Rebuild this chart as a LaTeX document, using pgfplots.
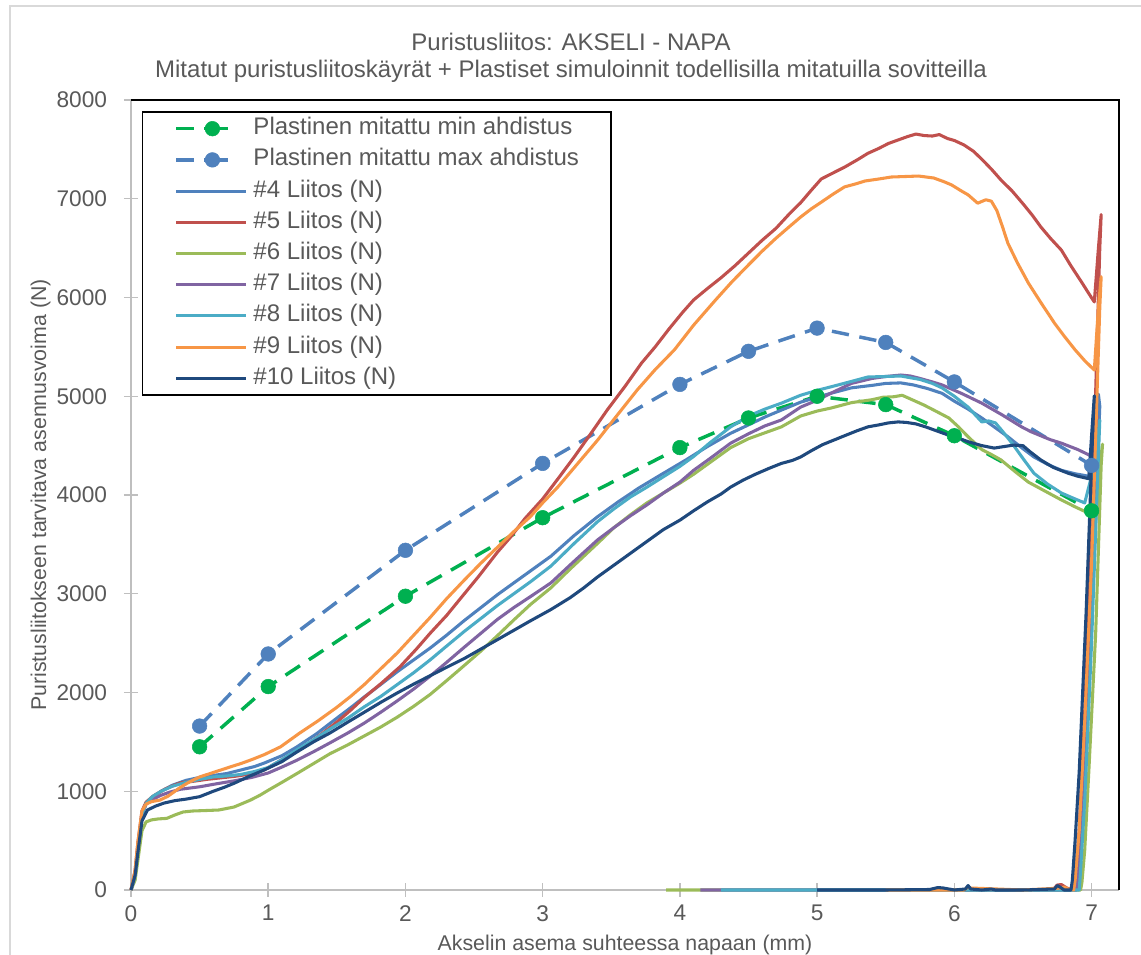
\documentclass[border=0pt]{standalone}
\usepackage{fontspec}
\setmainfont{Liberation Sans}
\usepackage{pgfplots}
\pgfplotsset{compat=1.18}

\definecolor{txt}{HTML}{595959}
\definecolor{axgrey}{HTML}{BFBFBF}
\definecolor{chartframe}{HTML}{D9D9D9}
\definecolor{cMin}{HTML}{00B050}
\definecolor{cMax}{HTML}{4F81BD}
\definecolor{cFour}{HTML}{4F81BD}
\definecolor{cFive}{HTML}{C0504D}
\definecolor{cSix}{HTML}{9BBB59}
\definecolor{cSeven}{HTML}{8064A2}
\definecolor{cEight}{HTML}{4BACC6}
\definecolor{cNine}{HTML}{F79646}
\definecolor{cTen}{HTML}{1F497D}

\pgfplotsset{
  simline/.style={line width=2.6pt, dash pattern=on 13pt off 8pt, mark=*, mark size=5.5pt,
    mark options={solid, line width=0.4pt},
    legend image code/.code={
      \draw[mark repeat=2, mark phase=2, ##1, dash pattern=on 13.5pt off 7.5pt on 18pt off 10pt]
        plot coordinates {(0pt,0pt) (27pt,0pt) (39pt,0pt)};
      \path (52.5pt,0pt);}},
  meas/.style={line width=2.3pt, line join=round},
}

\begin{document}
\begin{tikzpicture}
\useasboundingbox (0pt,0pt) rectangle (855.75pt,716.25pt);
% chart area border
\draw[chartframe, line width=1.5pt] (7.5pt,0pt) -- (7.5pt,711.75pt) -- (855.75pt,711.75pt);
% titles
\node[text=txt, font=\fontsize{18pt}{21pt}\selectfont, anchor=base, inner sep=0pt] at (428.25pt,678pt) {Puristusliitos: AKSELI - NAPA};
\node[text=txt, font=\fontsize{18pt}{21pt}\selectfont, anchor=base, inner sep=0pt] at (428.25pt,657.75pt) {Mitatut puristusliitoskäyrät + Plastiset simuloinnit todellisilla mitatuilla sovitteilla};

\begin{axis}[
  at={(98.25pt,48.75pt)}, anchor=south west,
  scale only axis, width=741pt, height=592.5pt,
  xmin=0, xmax=7.2, ymin=0, ymax=8000,
  clip=false,
  axis line style={draw=none},
  xtick={0,1,...,7}, ytick={0,1000,...,8000},
  tick pos=left, tick align=center,
  major tick length=10.5pt,
  major tick style={draw=axgrey, line width=1.1pt},
  scaled ticks=false,
  /pgf/number format/assume math mode=true,
  /pgf/number format/1000 sep={},
  ticklabel style={font=\fontsize{17pt}{20pt}\selectfont, text=txt, inner sep=0pt},
  yticklabel style={anchor=east},
  xticklabel style={anchor=north, yshift=-6pt},
  yticklabel shift=12.5pt,
  xlabel={Akselin asema suhteessa napaan (mm)},
  ylabel={Puristusliitokseen tarvitava asennusvoima (N)},
  xlabel style={at={(axis description cs:0.5,-0.0772)}, anchor=base, inner sep=0pt,
    font=\fontsize{16pt}{19pt}\selectfont, text=txt},
  ylabel style={at={(axis description cs:-0.086,0.5)}, anchor=base, inner sep=0pt,
    font=\fontsize{16pt}{19pt}\selectfont, text=txt},
  legend image code/.code={\draw[#1] (0pt,0pt) -- (52.5pt,0pt);},
  legend cell align=left,
  legend style={at={(0.0111,0.9857)}, anchor=north west, draw=black, line width=1.1pt,
    inner xsep=24pt, inner ysep=4.5pt, row sep=7.4pt, column sep=4pt,
    font=\fontsize{18pt}{21pt}\selectfont, text=txt,
    nodes={inner sep=0pt, text height=12.5pt, text depth=3.5pt}},
]

% axis lines (grey, under the curves)
\draw[axgrey, line width=1.5pt] (rel axis cs:0,1) -- (rel axis cs:0,0) -- (rel axis cs:1,0);

% plastic simulations
\addplot[simline, color=cMin] coordinates {
(0.5,1450) (1,2060) (2,2975) (3,3770) (4,4480) (4.5,4780) (5,5000) (5.5,4915) (6,4600) (7,3840)};
\addlegendentry{Plastinen mitattu min ahdistus}
\addplot[simline, color=cMax] coordinates {
(0.5,1660) (1,2390) (2,3440) (3,4320) (4,5120) (4.5,5455) (5,5690) (5.5,5545) (6,5145) (7,4300)};
\addlegendentry{Plastinen mitattu max ahdistus}

% measured joints
\addplot[meas, color=cFour] coordinates {
(0,0) (0.03,150) (0.05,420) (0.08,760) (0.11,880) (0.16,940) (0.22,1000) (0.3,1060) (0.4,1110)
(0.5,1140) (0.6,1160) (0.7,1180) (0.8,1215) (0.9,1250) (0.97,1285) (1.1,1360) (1.21,1450)
(1.35,1580) (1.5,1740) (1.6,1845) (1.7,1955) (1.8,2060) (1.94,2210) (2.06,2330) (2.18,2450)
(2.3,2580) (2.43,2730) (2.55,2860) (2.67,2990) (2.8,3120) (2.91,3230) (3.06,3380) (3.23,3590)
(3.4,3780) (3.55,3930) (3.7,4070) (3.88,4220) (4.05,4360) (4.2,4490) (4.37,4625) (4.5,4710)
(4.62,4790) (4.74,4860) (4.88,4940) (5.0,4990) (5.1,5030) (5.25,5085) (5.4,5110) (5.5,5130)
(5.61,5135) (5.7,5115) (5.8,5080) (5.91,5030) (6.0,4950) (6.1,4870) (6.2,4780) (6.3,4680)
(6.39,4590) (6.48,4490) (6.58,4385) (6.68,4310) (6.78,4250) (6.88,4215) (6.98,4190)
(7.0,4400) (7.05,5020) (7.06,4900) (7.0,2700) (6.95,1300) (6.91,400) (6.89,80) (6.88,0)
(6.5,0) (6.0,0) (5.5,0) (5.0,0)};
\addlegendentry{\#4 Liitos (N)}

\addplot[meas, color=cFive] coordinates {
(0,0) (0.03,200) (0.05,480) (0.08,800) (0.11,890) (0.16,950) (0.22,1000) (0.26,1030) (0.36,1085)
(0.45,1100) (0.55,1120) (0.65,1135) (0.75,1150) (0.85,1170) (0.97,1215) (1.1,1320) (1.26,1450)
(1.38,1570) (1.5,1700) (1.6,1820) (1.7,1950) (1.83,2100) (1.96,2260) (2.08,2440) (2.18,2600)
(2.3,2780) (2.4,2950) (2.53,3170) (2.67,3420) (2.77,3580) (2.87,3760) (3.0,3960) (3.12,4180)
(3.23,4385) (3.35,4620) (3.47,4860) (3.6,5100) (3.72,5335) (3.82,5500) (3.92,5680) (4.02,5850)
(4.1,5975) (4.2,6090) (4.3,6200) (4.4,6320) (4.5,6450) (4.6,6580) (4.7,6700) (4.8,6850)
(4.88,6960) (4.96,7090) (5.03,7200) (5.1,7250) (5.2,7320) (5.3,7400) (5.37,7460) (5.45,7510)
(5.52,7560) (5.59,7595) (5.66,7630) (5.72,7655) (5.78,7640) (5.84,7635) (5.89,7650) (5.95,7610)
(6.0,7590) (6.07,7545) (6.14,7480) (6.2,7400) (6.27,7300) (6.34,7190) (6.42,7080) (6.5,6950)
(6.57,6830) (6.63,6715) (6.7,6600) (6.78,6480) (6.85,6320) (6.93,6150) (6.98,6040) (7.02,5955)
(7.05,6500) (7.07,6840) (7.06,6500) (7.0,3600) (6.95,1800) (6.91,600) (6.88,100) (6.86,0)
(6.82,20) (6.78,55) (6.75,50) (6.72,5) (6.5,0) (6.0,0) (5.5,0)};
\addlegendentry{\#5 Liitos (N)}

\addplot[meas, color=cSix] coordinates {
(0,0) (0.03,100) (0.05,300) (0.08,600) (0.11,690) (0.15,710) (0.2,720) (0.26,725) (0.32,760)
(0.38,790) (0.45,800) (0.55,805) (0.64,810) (0.75,840) (0.87,910) (0.94,960) (1.0,1010)
(1.1,1090) (1.21,1180) (1.33,1280) (1.45,1380) (1.58,1470) (1.7,1560) (1.82,1650) (1.94,1750)
(2.06,1860) (2.18,1980) (2.3,2120) (2.43,2275) (2.55,2420) (2.67,2575) (2.79,2735) (2.91,2890)
(3.06,3060) (3.2,3250) (3.3,3380) (3.4,3510) (3.52,3670) (3.64,3800) (3.76,3920) (3.88,4020)
(4.0,4120) (4.1,4210) (4.22,4330) (4.37,4480) (4.5,4570) (4.62,4630) (4.74,4690) (4.88,4800)
(5.0,4850) (5.1,4880) (5.25,4935) (5.4,4965) (5.48,4990) (5.56,4995) (5.62,5010) (5.7,4960)
(5.78,4910) (5.85,4860) (5.96,4780) (6.03,4690) (6.1,4590) (6.2,4460) (6.27,4410) (6.34,4355)
(6.44,4240) (6.54,4130) (6.66,4040) (6.78,3950) (6.88,3880) (6.98,3815) (7.03,3750)
(7.06,4300) (7.08,4515) (7.07,4300) (7.03,2600) (6.98,1200) (6.95,400) (6.93,80) (6.92,0)
(6.5,0) (6.0,0) (5.0,0) (4.5,0) (3.9,0)};
\addlegendentry{\#6 Liitos (N)}

\addplot[meas, color=cSeven] coordinates {
(0,0) (0.03,150) (0.05,420) (0.08,760) (0.11,870) (0.16,920) (0.22,960) (0.28,990) (0.36,1020)
(0.5,1045) (0.6,1070) (0.75,1105) (0.88,1140) (1.0,1185) (1.1,1245) (1.21,1315) (1.33,1400)
(1.45,1490) (1.58,1590) (1.7,1690) (1.82,1800) (1.94,1915) (2.06,2035) (2.18,2165) (2.3,2305)
(2.43,2460) (2.55,2600) (2.67,2740) (2.79,2860) (2.91,2970) (3.06,3110) (3.23,3330) (3.4,3545)
(3.52,3670) (3.64,3790) (3.76,3900) (3.88,4020) (4.0,4130) (4.1,4250) (4.22,4370) (4.37,4525)
(4.5,4620) (4.62,4700) (4.74,4760) (4.88,4890) (5.0,4960) (5.1,5030) (5.25,5130) (5.4,5180)
(5.5,5200) (5.61,5215) (5.68,5205) (5.75,5180) (5.84,5145) (5.91,5115) (6.05,5030) (6.2,4930)
(6.35,4810) (6.49,4690) (6.56,4640) (6.63,4600) (6.7,4560) (6.78,4525) (6.9,4460) (6.99,4400)
(7.02,4600) (7.04,4800) (7.03,4500) (6.98,2500) (6.94,1000) (6.91,300) (6.9,50) (6.89,0)
(6.5,0) (6.0,0) (5.0,0) (4.15,0)};
\addlegendentry{\#7 Liitos (N)}

\addplot[meas, color=cEight] coordinates {
(0,0) (0.03,150) (0.05,420) (0.08,760) (0.11,880) (0.16,950) (0.22,1000) (0.3,1050) (0.4,1090)
(0.5,1120) (0.6,1145) (0.7,1155) (0.8,1170) (0.9,1200) (1.0,1240) (1.1,1320) (1.21,1420)
(1.33,1520) (1.45,1630) (1.58,1740) (1.7,1855) (1.82,1960) (1.94,2080) (2.06,2200) (2.18,2330)
(2.3,2470) (2.43,2620) (2.55,2750) (2.67,2880) (2.79,3000) (2.91,3120) (3.06,3280) (3.23,3510)
(3.4,3730) (3.52,3860) (3.64,3980) (3.76,4080) (3.88,4185) (4.0,4290) (4.1,4390) (4.22,4530)
(4.37,4690) (4.5,4800) (4.62,4870) (4.74,4930) (4.88,5010) (5.0,5060) (5.1,5095) (5.25,5150)
(5.37,5195) (5.5,5200) (5.61,5205) (5.75,5170) (5.84,5130) (5.91,5085) (6.0,5000) (6.1,4890)
(6.2,4740) (6.25,4750) (6.3,4730) (6.36,4630) (6.42,4525) (6.5,4370) (6.58,4220) (6.68,4110)
(6.78,4020) (6.88,3960) (6.95,3920) (7.02,4300) (7.06,4760) (7.05,4400) (7.0,2500) (6.95,900)
(6.92,200) (6.91,0) (6.5,0) (6.0,0) (5.0,0) (4.3,0)};
\addlegendentry{\#8 Liitos (N)}

\addplot[meas, color=cNine] coordinates {
(0,0) (0.03,200) (0.05,480) (0.08,800) (0.11,870) (0.15,895) (0.21,910) (0.27,950) (0.35,1030)
(0.42,1090) (0.5,1145) (0.6,1190) (0.72,1245) (0.8,1280) (0.87,1315) (0.97,1370) (1.09,1450)
(1.23,1590) (1.36,1710) (1.5,1850) (1.6,1960) (1.7,2080) (1.82,2240) (1.94,2400) (2.06,2580)
(2.18,2760) (2.3,2950) (2.43,3140) (2.55,3310) (2.67,3470) (2.79,3630) (2.91,3780) (3.0,3920)
(3.11,4080) (3.25,4310) (3.4,4555) (3.55,4820) (3.69,5065) (3.82,5270) (3.96,5470) (4.1,5720)
(4.26,5975) (4.38,6160) (4.5,6330) (4.6,6470) (4.7,6600) (4.8,6720) (4.88,6815) (4.96,6900)
(5.03,6965) (5.12,7050) (5.2,7120) (5.28,7150) (5.35,7180) (5.45,7200) (5.54,7220) (5.64,7225)
(5.74,7230) (5.85,7210) (5.92,7175) (5.98,7140) (6.05,7080) (6.1,7040) (6.17,6955) (6.23,6990)
(6.27,6975) (6.31,6880) (6.35,6720) (6.39,6550) (6.46,6350) (6.54,6145) (6.63,5950) (6.73,5740)
(6.8,5610) (6.88,5470) (6.95,5360) (7.02,5265) (7.05,5900) (7.07,6210) (7.06,5900) (7.0,3300)
(6.95,1700) (6.91,600) (6.88,100) (6.87,0) (6.83,10) (6.8,30) (6.78,20) (6.5,0) (6.12,20)
(6.1,30) (6.07,0) (5.5,0)};
\addlegendentry{\#9 Liitos (N)}

\addplot[meas, color=cTen] coordinates {
(0,0) (0.03,150) (0.05,380) (0.08,700) (0.12,810) (0.18,850) (0.24,880) (0.32,905) (0.4,920)
(0.5,945) (0.6,1000) (0.68,1040) (0.75,1080) (0.86,1150) (0.97,1215) (1.1,1300) (1.2,1390)
(1.33,1500) (1.45,1590) (1.58,1700) (1.7,1800) (1.82,1900) (1.94,1995) (2.06,2085) (2.18,2170)
(2.3,2255) (2.43,2345) (2.55,2440) (2.67,2535) (2.79,2630) (2.91,2725) (3.06,2840) (3.2,2960)
(3.3,3060) (3.4,3170) (3.52,3290) (3.64,3410) (3.76,3530) (3.88,3650) (4.0,3745) (4.1,3840)
(4.2,3930) (4.3,4010) (4.37,4080) (4.46,4150) (4.55,4210) (4.65,4270) (4.74,4320) (4.82,4350)
(4.88,4385) (4.96,4450) (5.04,4510) (5.12,4555) (5.2,4600) (5.29,4650) (5.37,4690) (5.45,4710)
(5.52,4730) (5.59,4740) (5.65,4735) (5.72,4720) (5.79,4690) (5.85,4660) (5.95,4610) (6.03,4575)
(6.1,4540) (6.2,4500) (6.29,4475) (6.36,4490) (6.43,4505) (6.5,4500) (6.55,4440) (6.63,4355)
(6.72,4280) (6.83,4220) (6.9,4190) (6.98,4165) (7.0,4600) (7.02,5005) (7.01,4700) (6.96,2800)
(6.91,1200) (6.88,500) (6.86,100) (6.85,0) (6.8,0) (6.77,30) (6.75,45) (6.73,10) (6.5,0)
(6.3,0) (6.27,10) (6.2,0) (6.12,10) (6.1,45) (6.08,10) (6.0,0) (5.92,20) (5.88,25) (5.82,5)
(5.5,0) (5.0,0)};
\addlegendentry{\#10 Liitos (N)}

% plot area border (top and right)
\draw[black, line width=1.5pt] (rel axis cs:0,1) -- (rel axis cs:1,1) -- (rel axis cs:1,0);
\end{axis}
\end{tikzpicture}
\end{document}
